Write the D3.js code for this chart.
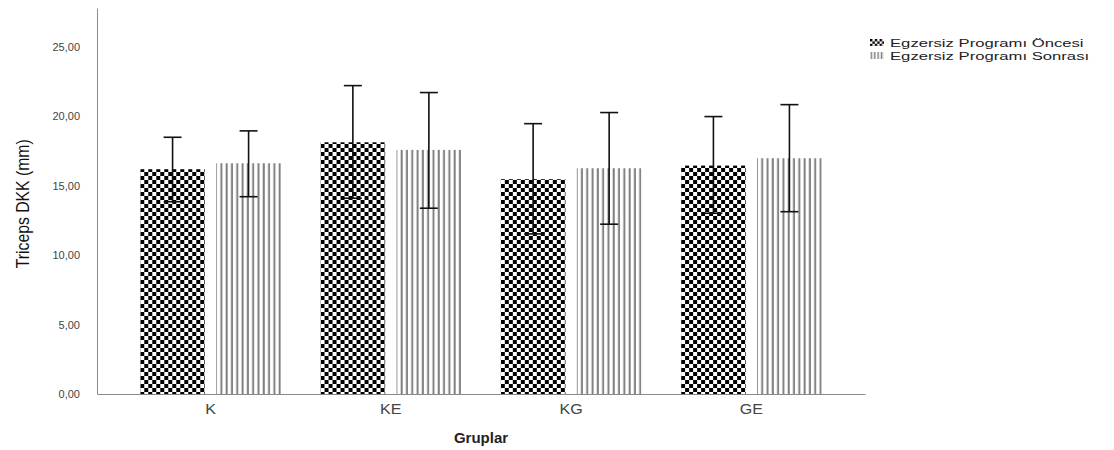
<!DOCTYPE html>
<html>
<head>
<meta charset="utf-8">
<script src="https://cdn.jsdelivr.net/npm/d3@7"></script>
<style>
  body { margin: 0; background: #fff; }
  svg { display: block; }
</style>
</head>
<body>
<div id="chart"></div>
<script>
const groups = ['K', 'KE', 'KG', 'GE']
const seriesNames = ['Egzersiz Programı Öncesi', 'Egzersiz Programı Sonrası']
const preMean = [16.19, 18.13, 15.47, 16.45]
const preLow = [13.85, 14.1, 11.53, 13.02]
const preHigh = [18.49, 22.21, 19.47, 19.98]
const postMean = [16.62, 17.58, 16.26, 16.98]
const postLow = [14.21, 13.38, 12.23, 13.13]
const postHigh = [18.95, 21.71, 20.27, 20.84]
const yTicks = [0, 5, 10, 15, 20, 25]

const width = 1114
const height = 450
const margin = { top: 8, left: 97, right: 249, bottom: 56 }

const svg = d3
  .select('#chart')
  .append('svg')
  .attr('width', width)
  .attr('height', height)

const defs = svg.append('defs')

// checkerboard for "before"
function makeChecker(id, cell) {
  const p = defs
    .append('pattern')
    .attr('id', id)
    .attr('patternUnits', 'userSpaceOnUse')
    .attr('width', cell * 2)
    .attr('height', cell * 2)
  p.append('rect').attr('width', cell * 2).attr('height', cell * 2).attr('fill', '#fff')
  p.append('rect').attr('width', cell).attr('height', cell).attr('fill', '#000')
  p.append('rect').attr('x', cell).attr('y', cell).attr('width', cell).attr('height', cell).attr('fill', '#000')
}

// vertical stripes for "after"
function makeStripes(id, step, lw) {
  const p = defs
    .append('pattern')
    .attr('id', id)
    .attr('patternUnits', 'userSpaceOnUse')
    .attr('width', step)
    .attr('height', 10)
  p.append('rect').attr('width', step).attr('height', 10).attr('fill', '#fff')
  p.append('rect').attr('x', 0.6).attr('width', lw).attr('height', 10).attr('fill', '#808080')
}

makeChecker('checker', 4)
makeStripes('stripes', 5.3, 2)
makeChecker('checker-small', 2.4)
makeStripes('stripes-small', 3.4, 1.5)

const data = groups.map((g, i) => ({
  group: g,
  values: [
    { series: seriesNames[0], mean: preMean[i], low: preLow[i], high: preHigh[i] },
    { series: seriesNames[1], mean: postMean[i], low: postLow[i], high: postHigh[i] }
  ]
}))

const x0 = d3
  .scaleBand()
  .domain(groups)
  .range([margin.left, width - margin.right])
  .paddingInner(0.22)
  .paddingOuter(0.24)

const x1 = d3
  .scaleBand()
  .domain(seriesNames)
  .range([0, x0.bandwidth()])
  .paddingInner(0.15)

const y = d3
  .scaleLinear()
  .domain([0, 27.8])
  .range([height - margin.bottom, margin.top])

const fillScale = d3.scaleOrdinal().domain(seriesNames).range(['url(#checker)', 'url(#stripes)'])
const iconScale = d3.scaleOrdinal().domain(seriesNames).range(['url(#checker-small)', 'url(#stripes-small)'])

const fmt = d => d3.format('.2f')(d).replace('.', ',')

// Axes
const yAxis = d3.axisLeft(y).tickValues(yTicks).tickSize(0).tickPadding(17).tickFormat(fmt)
const yg = svg
  .append('g')
  .attr('transform', 'translate(' + margin.left + ',0)')
  .call(yAxis)
yg.select('.domain').attr('stroke', '#8a8a8a')
yg.selectAll('text')
  .attr('font-family', 'Liberation Sans, Arial, sans-serif')
  .attr('font-size', 11)
  .attr('fill', '#444')

const bars = svg
  .selectAll('.group')
  .data(data)
  .enter()
  .append('g')
  .attr('class', 'group')
  .attr('transform', d => 'translate(' + x0(d.group) + ',0)')

bars
  .selectAll('rect')
  .data(d => d.values)
  .enter()
  .append('rect')
  .attr('x', d => x1(d.series))
  .attr('y', d => y(d.mean))
  .attr('width', x1.bandwidth())
  .attr('height', d => y(0) - y(d.mean))
  .attr('fill', d => fillScale(d.series))

// error bars
const capHalf = 9
const err = bars
  .selectAll('.err')
  .data(d => d.values)
  .enter()
  .append('g')
  .attr('class', 'err')
  .attr('stroke', '#111')
  .attr('stroke-width', 1.6)
err.append('line')
  .attr('x1', d => x1(d.series) + x1.bandwidth() / 2)
  .attr('x2', d => x1(d.series) + x1.bandwidth() / 2)
  .attr('y1', d => y(d.low))
  .attr('y2', d => y(d.high))
err.append('line')
  .attr('x1', d => x1(d.series) + x1.bandwidth() / 2 - capHalf)
  .attr('x2', d => x1(d.series) + x1.bandwidth() / 2 + capHalf)
  .attr('y1', d => y(d.high))
  .attr('y2', d => y(d.high))
err.append('line')
  .attr('x1', d => x1(d.series) + x1.bandwidth() / 2 - capHalf)
  .attr('x2', d => x1(d.series) + x1.bandwidth() / 2 + capHalf)
  .attr('y1', d => y(d.low))
  .attr('y2', d => y(d.low))

const xAxis = d3.axisBottom(x0).tickSize(0).tickPadding(10)
const xg = svg
  .append('g')
  .attr('transform', 'translate(0,' + y(0) + ')')
  .call(xAxis)
xg.select('.domain').attr('stroke', '#8a8a8a')
xg.selectAll('text')
  .attr('font-family', 'Liberation Sans, Arial, sans-serif')
  .attr('font-size', 14)
  .attr('fill', '#444')
  .attr('transform', 'scale(1.15,1)')

// axis titles
svg
  .append('text')
  .text('Gruplar')
  .attr('x', (margin.left + width - margin.right) / 2)
  .attr('y', 443)
  .attr('text-anchor', 'middle')
  .attr('font-family', 'Liberation Sans, Arial, sans-serif')
  .attr('font-weight', 'bold')
  .attr('font-size', 15)
  .attr('fill', '#222')

// condensed y title, like the original narrow font
svg
  .append('text')
  .text('Triceps DKK (mm)')
  .attr('transform', 'translate(29,' + y(13.7) + ') rotate(-90) scale(0.83,1)')
  .attr('text-anchor', 'middle')
  .attr('font-family', 'Liberation Sans, Arial, sans-serif')
  .attr('font-size', 19)
  .attr('fill', '#111')

// legend
const legend = svg
  .selectAll('.legend')
  .data(seriesNames)
  .enter()
  .append('g')
  .attr('class', 'legend')
  .attr('transform', (d, i) => 'translate(870,' + (39 + i * 13) + ')')

legend
  .append('rect')
  .attr('width', 14)
  .attr('height', 7)
  .attr('fill', d => iconScale(d))

legend
  .append('text')
  .text(d => d)
  .attr('transform', 'translate(20,7.5) scale(1.45,1)')
  .attr('font-family', 'Liberation Sans, Arial, sans-serif')
  .attr('font-size', 11.5)
  .attr('fill', '#222')
</script>
</body>
</html>
